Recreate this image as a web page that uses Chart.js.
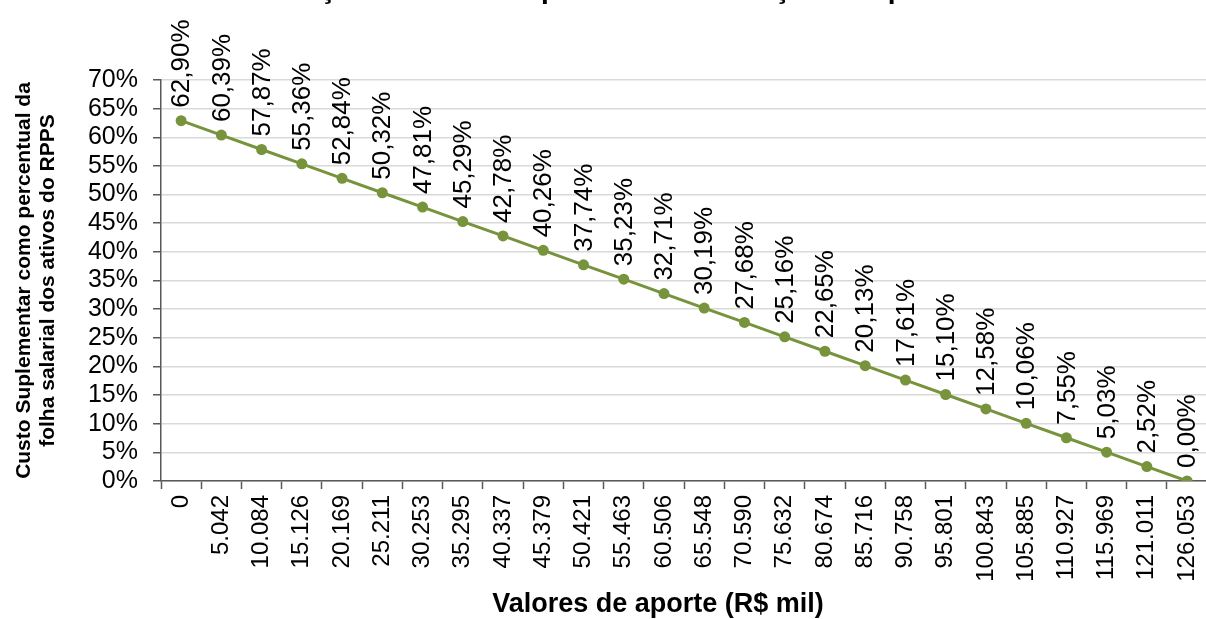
<!DOCTYPE html>
<html>
<head>
<meta charset="utf-8">
<script src="https://cdn.jsdelivr.net/npm/chart.js@4.4.0/dist/chart.umd.min.js"></script>
<style>
html, body { margin: 0; padding: 0; background: #fff; }
#clip { width: 1206px; height: 619px; overflow: hidden; position: relative; }
#box { width: 1222px; height: 619px; position: absolute; left: 0; top: 0; }
</style>
</head>
<body>
<div id="clip"><div id="box"><canvas id="lineChart"></canvas></div></div>
<script>
var titulo = 'Redução do Custo Suplementar em função do aporte';
var tituloY = ['Custo Suplementar como percentual da', 'folha salarial dos ativos do RPPS'];
var tituloX = 'Valores de aporte (R$ mil)';

var aportes = ['0', '5.042', '10.084', '15.126', '20.169', '25.211', '30.253', '35.295', '40.337',
  '45.379', '50.421', '55.463', '60.506', '65.548', '70.590', '75.632', '80.674', '85.716',
  '90.758', '95.801', '100.843', '105.885', '110.927', '115.969', '121.011', '126.053'];
var custo = [62.90, 60.39, 57.87, 55.36, 52.84, 50.32, 47.81, 45.29, 42.78, 40.26, 37.74, 35.23,
  32.71, 30.19, 27.68, 25.16, 22.65, 20.13, 17.61, 15.10, 12.58, 10.06, 7.55, 5.03, 2.52, 0.00];
var rotulos = ['62,90%', '60,39%', '57,87%', '55,36%', '52,84%', '50,32%', '47,81%', '45,29%',
  '42,78%', '40,26%', '37,74%', '35,23%', '32,71%', '30,19%', '27,68%', '25,16%', '22,65%',
  '20,13%', '17,61%', '15,10%', '12,58%', '10,06%', '7,55%', '5,03%', '2,52%', '0,00%'];

var fonte = '"Liberation Sans", Arial, sans-serif';
var verde = '#77933C';
var eixo = '#595959';

// rotated value labels above each point, the (cut off) title and the x axis title
var rotulosPlugin = {
  id: 'rotulos',
  afterDatasetsDraw: function(chart) {
    var ctx = chart.ctx;
    var meta = chart.getDatasetMeta(0);
    ctx.save();
    ctx.fillStyle = '#000';
    ctx.font = '26px ' + fonte;
    ctx.textAlign = 'left';
    ctx.textBaseline = 'middle';
    meta.data.forEach(function(pt, i) {
      ctx.save();
      ctx.translate(pt.x + 1, pt.y - 13);
      ctx.rotate(-Math.PI / 2);
      ctx.fillText(rotulos[i], 0, 0);
      ctx.restore();
    });
    ctx.font = 'bold 28px ' + fonte;
    ctx.textBaseline = 'alphabetic';
    ctx.fillText(titulo, 250, -2);
    ctx.font = 'bold 27px ' + fonte;
    ctx.textAlign = 'center';
    ctx.textBaseline = 'middle';
    ctx.fillText(tituloX, 658, 605);
    ctx.restore();
  }
};

var ctx = document.getElementById('lineChart').getContext('2d');
var chart = new Chart(ctx, {
  type: 'line',
  data: {
    labels: aportes,
    datasets: [{
      data: custo,
      borderColor: verde,
      backgroundColor: verde,
      borderWidth: 3,
      pointRadius: 5.5,
      pointBorderWidth: 0,
      pointBackgroundColor: verde,
      tension: 0
    }]
  },
  options: {
    responsive: true,
    maintainAspectRatio: false,
    animation: false,
    layout: { padding: { top: 80, right: 5, bottom: 0, left: 0 } },
    plugins: {
      legend: { display: false },
      tooltip: { enabled: false }
    },
    scales: {
      x: {
        offset: true,
        afterFit: function(scale) { scale.height = 138; },
        grid: { display: true, offset: true, drawOnChartArea: false, tickLength: 8, tickColor: eixo, tickWidth: 1.5 },
        border: { color: eixo, width: 1.5 },
        ticks: { color: '#000', minRotation: 90, maxRotation: 90, padding: 6, autoSkip: false,
          font: { family: fonte, size: 24 } }
      },
      y: {
        min: 0,
        max: 70,
        afterFit: function(scale) { scale.width = 161; },
        grid: { color: '#d9d9d9', lineWidth: 1.5, tickLength: 8, tickColor: eixo, tickWidth: 1.5 },
        border: { color: eixo, width: 1.5 },
        ticks: { stepSize: 5, autoSkip: false, color: '#000', padding: 15,
          font: { family: fonte, size: 25 },
          callback: function(v) { return v + '%'; } },
        title: { display: true, text: tituloY, color: '#000', padding: { top: 12, bottom: 0 },
          font: { family: fonte, size: 21, weight: 'bold', lineHeight: 1.15 } }
      }
    }
  },
  plugins: [rotulosPlugin]
});
</script>
</body>
</html>
